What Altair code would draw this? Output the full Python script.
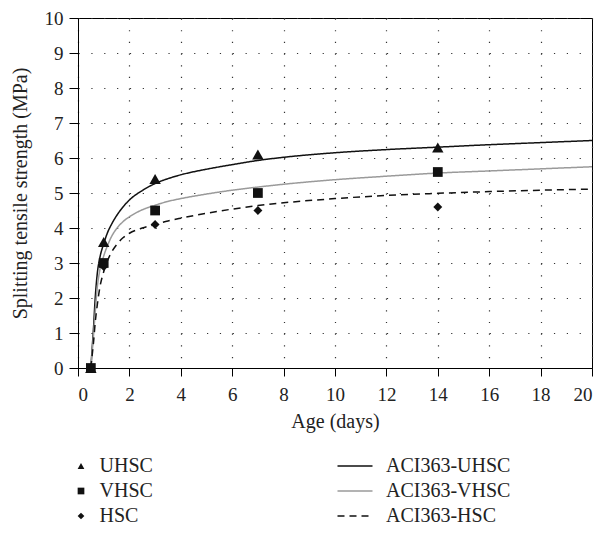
import altair as alt
import pandas as pd

# Measured points (Age in days, splitting tensile strength in MPa)
ages = [0.5, 1, 3, 7, 14]
uhsc = [0, 3.6, 5.4, 6.1, 6.3]
vhsc = [0, 3.0, 4.5, 5.0, 5.6]
hsc = [0, 2.9, 4.1, 4.5, 4.6]

# ACI 363 prediction curves
curve_age = [0.5, 0.55, 0.6, 0.67, 0.75, 0.85, 1.0, 1.15, 1.3, 1.5, 1.75, 2.0, 2.5,
             3.0, 3.5, 4.0, 5.0, 6.0, 7.0, 8.0, 10.0, 12.0, 14.0, 16.0, 18.0, 20.0]
aci_uhsc = [0, 0.55, 1.1, 2.0, 2.7, 3.15, 3.55, 3.87, 4.1, 4.35, 4.6, 4.8, 5.07,
            5.27, 5.41, 5.52, 5.68, 5.81, 5.93, 6.02, 6.15, 6.24, 6.31, 6.38, 6.44, 6.5]
aci_vhsc = [0, 0.45, 0.9, 1.6, 2.3, 2.8, 3.2, 3.5, 3.75, 3.98, 4.18, 4.32, 4.52,
            4.65, 4.76, 4.84, 4.97, 5.08, 5.17, 5.25, 5.38, 5.48, 5.57, 5.63, 5.69, 5.75]
aci_hsc = [0, 0.35, 0.7, 1.3, 1.8, 2.3, 2.75, 3.07, 3.3, 3.52, 3.72, 3.85, 4.0,
           4.1, 4.2, 4.28, 4.42, 4.54, 4.64, 4.72, 4.84, 4.93, 4.99, 5.04, 5.08, 5.11]

point_names = ["UHSC", "VHSC", "HSC"]
point_shapes = ["triangle-up", "square", "diamond"]
line_names = ["ACI363-UHSC", "ACI363-VHSC", "ACI363-HSC"]

# draw order: HSC below, VHSC on top
pts = pd.concat([
    pd.DataFrame({"age": ages, "val": hsc, "series": "HSC"}),
    pd.DataFrame({"age": ages, "val": uhsc, "series": "UHSC"}),
    pd.DataFrame({"age": ages, "val": vhsc, "series": "VHSC"}),
], ignore_index=True)

lines = pd.concat([
    pd.DataFrame({"age": curve_age, "val": aci_uhsc, "series": line_names[0]}),
    pd.DataFrame({"age": curve_age, "val": aci_vhsc, "series": line_names[1]}),
    pd.DataFrame({"age": curve_age, "val": aci_hsc, "series": line_names[2]}),
], ignore_index=True)

FONT = "Liberation Serif"

x_enc = alt.X(
    "age:Q",
    scale=alt.Scale(domain=[0, 20], nice=False, zero=False),
    axis=alt.Axis(
        values=list(range(0, 21, 2)), title="Age (days)", format="d",
        grid=True, gridDash=[1.2, 10.47], gridColor="#333", gridWidth=1.2,
        tickSize=8, labelPadding=9, titlePadding=7,
        domainColor="black", tickColor="black", tickWidth=1,
        labelFont=FONT, titleFont=FONT, labelFontSize=19, titleFontSize=20,
        labelColor="#222", titleColor="#222", titleFontWeight="normal",
    ),
)
y_enc = alt.Y(
    "val:Q",
    scale=alt.Scale(domain=[0, 10], nice=False),
    axis=alt.Axis(
        values=list(range(0, 11)), title="Splitting tensile strength (MPa)", format="d",
        grid=True, gridDash=[1.2, 11.65], gridColor="#333", gridWidth=1.2,
        tickSize=9, labelPadding=6, titlePadding=14,
        domainColor="black", tickColor="black", tickWidth=1,
        labelFont=FONT, titleFont=FONT, labelFontSize=19, titleFontSize=20,
        labelColor="#222", titleColor="#222", titleFontWeight="normal",
    ),
)

line_legend = alt.Legend(
    title=None, orient="none", legendX=267, legendY=438,
    symbolType="M-3.5,0H3.5", symbolSize=100, symbolStrokeWidth=1.5,
    labelOffset=21, rowPadding=5,
    labelFont=FONT, labelFontSize=20, labelColor="#222", padding=0,
)

line_layer = alt.Chart(lines).mark_line(strokeWidth=1.5, interpolate="monotone").encode(
    x=x_enc,
    y=y_enc,
    color=alt.Color("series:N", scale=alt.Scale(domain=line_names, range=["#111111", "#9a9a9a", "#111111"]),
                    legend=line_legend),
    strokeDash=alt.StrokeDash("series:N", scale=alt.Scale(domain=line_names, range=[[1, 0], [1, 0], [7, 5]]),
                              legend=line_legend),
    detail="series:N",
)

shape_legend = alt.Legend(
    title=None, orient="none", legendX=-7, legendY=438, symbolSize=45,
    symbolFillColor="#111111", symbolStrokeColor="#111111", symbolStrokeWidth=0,
    labelOffset=8.5, rowPadding=5, labelFont=FONT, labelFontSize=20, labelColor="#222", padding=0,
)

point_layer = alt.Chart(pts).mark_point(filled=True, opacity=1, color="#111111").encode(
    x=x_enc,
    y=y_enc,
    shape=alt.Shape("series:N", scale=alt.Scale(domain=point_names, range=point_shapes),
                    legend=shape_legend),
    size={
        "condition": [
            {"test": "datum.series === 'UHSC'", "value": 130},
            {"test": "datum.series === 'HSC'", "value": 80},
        ],
        "value": 95,
    },
)

chart = alt.layer(line_layer, point_layer).properties(
    width=514, height=350,
    autosize=alt.AutoSizeParams(type="none"),
    padding={"left": 70, "top": 10, "right": 10, "bottom": 157},
    background="white",
).configure_view(
    stroke="black", strokeWidth=1,
)

chart.save("out.html", embed_options={"renderer": "svg", "actions": False})
